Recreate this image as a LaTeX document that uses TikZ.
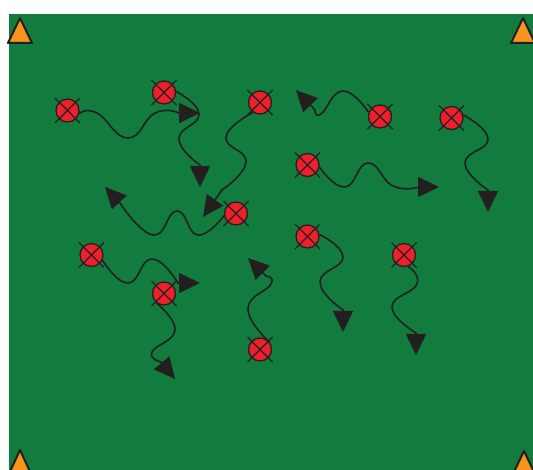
\documentclass[tikz,border=0pt]{standalone}
\usetikzlibrary{arrows.meta}
\definecolor{field}{RGB}{17,124,62}
\definecolor{pred}{RGB}{237,32,44}
\definecolor{cone}{RGB}{247,148,29}
\definecolor{ink}{RGB}{35,31,32}
\tikzset{
  player/.style={circle,minimum size=23pt,inner sep=0pt,fill=pred,draw=ink,line width=1.3pt},
  xline/.style={draw=ink,line width=1.3pt},
  run/.style={draw=ink,line width=1.6pt,-{Triangle[length=21pt,width=20pt]}},
  conemark/.style={fill=cone,draw=ink,line width=2pt,line join=round}
}
\begin{document}
\begin{tikzpicture}[x=1pt,y=-1pt]
\useasboundingbox (0,0) rectangle (533,470);
\clip (0,0) rectangle (533,470);
\fill[white] (0,0) rectangle (533,470);
\fill[field] (9,14) rectangle (534,471);
% cones
\path[conemark] (8,43) -- (20,18) -- (32,43) -- cycle;
\path[conemark] (511,43) -- (523,18) -- (535,43) -- cycle;
\path[conemark] (8,476) -- (20,450) -- (32,476) -- cycle;
\path[conemark] (512,476) -- (524,451) -- (536,476) -- cycle;
% players
\node[player] (p1) at (67.5,110.5) {};
\node[player] (p2) at (164,92.5) {};
\node[player] (p3) at (260,102.5) {};
\node[player] (p4) at (380,116.5) {};
\node[player] (p5) at (451.5,118) {};
\node[player] (p6) at (307.5,165) {};
\node[player] (p7) at (236,213.5) {};
\node[player] (p8) at (91.5,255) {};
\node[player] (p9) at (307.5,236.5) {};
\node[player] (p10) at (404,255) {};
\node[player] (p11) at (164,293.5) {};
\node[player] (p12) at (260,349.5) {};
\foreach \n in {p1,p2,p3,p4,p5,p6,p7,p8,p9,p10,p11,p12}{
  \draw[xline] (\n) +(-12.5,-12.5) -- +(12.5,12.5);
  \draw[xline] (\n) +(-12.5,12.5) -- +(12.5,-12.5);
}
% arrow ends
\coordinate (tA) at (200,113);
\coordinate (tB) at (200,187);
\coordinate (tC) at (203,217);
\coordinate (tD) at (296,90);
\coordinate (tE) at (488,212);
\coordinate (tF) at (439,187);
\coordinate (tG) at (105,187);
\coordinate (tH) at (200,283);
\coordinate (tI) at (175,379);
\coordinate (tJ) at (248,258);
\coordinate (tK) at (343,332);
\coordinate (tL) at (416,355);
% runs
\tikzset{every plot/.style={smooth,tension=0.85}}
\draw[run] plot coordinates {(p1.-15) (97,113) (128,138) (155,113) (179,113)} -- (tA);
\draw[run] plot coordinates {(p2.5) (199,114) (179,139) (200,165)} -- (tB);
\draw[run] plot coordinates {(p3.-125) (226,137) (246,162) (222,190)} -- (tC);
\draw[run] plot coordinates {(p4.160) (343,91) (321,114) (315,110)} -- (tD);
\draw[run] plot coordinates {(p5.15) (488,139) (465,163) (488,190)} -- (tE);
\draw[run] plot coordinates {(p6.-10) (345,187) (368,163) (393,186) (419,187)} -- (tF);
\draw[run] plot coordinates {(p7.190) (198,235) (177,211) (153,235) (120,203)} -- (tG);
\draw[run] plot coordinates {(p8.-25) (128,283) (152,259) (178,283)} -- (tH);
\draw[run] plot coordinates {(p11.-130) (175,330) (152,352) (161,362)} -- (tI);
\draw[run] plot coordinates {(p12.35) (248,309) (271,284) (266,276)} -- (tJ);
\draw[run] plot coordinates {(p9.10) (343,257) (320,282) (343,310)} -- (tK);
\draw[run] plot coordinates {(p10.-70) (417,284) (392,307) (416,333)} -- (tL);
\end{tikzpicture}
\end{document}
